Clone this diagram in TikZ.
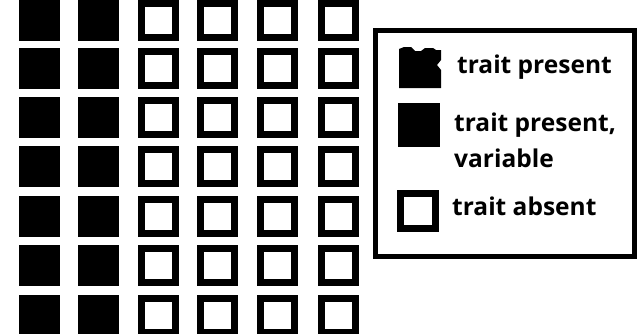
\documentclass[tikz,border=0pt]{standalone}
\usepackage{fontspec}
\setmainfont{Open Sans}
\begin{document}
\begin{tikzpicture}[x=1pt,y=-1pt,
  fullsq/.style={fill=black,draw=none,minimum width=41pt,minimum height=41pt,inner sep=0pt,outer sep=0pt},
  opensq/.style={draw=black,fill=white,line width=7pt,minimum width=34pt,minimum height=34pt,inner sep=0pt},
  legtext/.style={font=\fontsize{24.5}{36}\selectfont\bfseries,inner sep=0pt,align=left}]
\useasboundingbox (0,0) rectangle (639,333);
% grid
\foreach \r/\cy in {1/20,2/68,3/117,4/166,5/216,6/265,7/315}{
  \node[fullsq] (a\r) at (39.5,\cy) {};
  \node[fullsq] (b\r) at (98.5,\cy) {};
  \node[opensq] (c\r) at (158.5,\cy) {};
  \node[opensq] (d\r) at (217.5,\cy) {};
  \node[opensq] (e\r) at (277.5,\cy) {};
  \node[opensq] (f\r) at (338.5,\cy) {};
}
% legend box
\node[draw=black,line width=5pt,minimum width=259pt,minimum height=226pt,inner sep=0pt] (leg) at (505,143) {};
% legend icons
\fill[black] (399,49) -- (404,47) -- (411,47) -- (415,51) -- (421,51) -- (425,48) -- (433,48) -- (436,50) -- (441,50)
  -- (441,60) -- (437,65) -- (441,70) -- (441,88) -- (399,88) -- cycle;
\coordinate (i1) at (420,68);
\node[fullsq,minimum width=42pt,minimum height=44pt] (i2) at (419,125) {};
\node[opensq,minimum width=35pt,minimum height=35pt] (i3) at (418,211) {};
% legend text
\node[legtext,anchor=base west] (t1) at (457,73) {trait present};
\node[legtext,anchor=north west] (t2) at (454,113) {trait present,\\variable};
\node[legtext,anchor=base west] (t3) at (452,215) {trait absent};
\end{tikzpicture}
\end{document}
